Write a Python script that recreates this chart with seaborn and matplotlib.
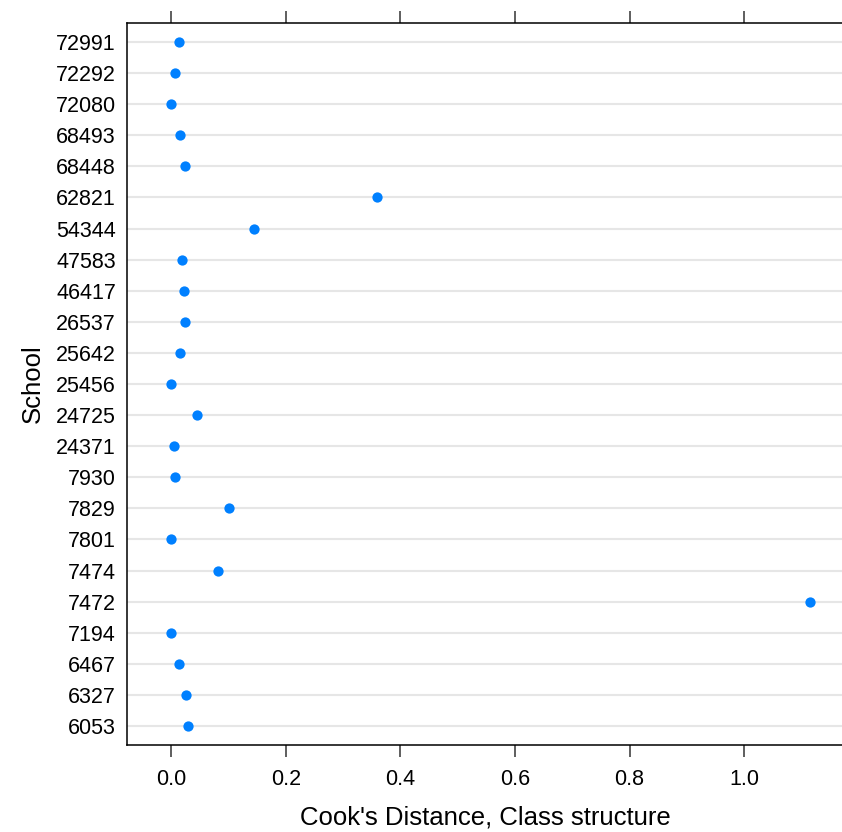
import pandas as pd
import matplotlib
matplotlib.use("Agg")
import matplotlib.pyplot as plt
import seaborn as sns

# schools, listed from top to bottom as in the chart
schools = ["72991", "72292", "72080", "68493", "68448", "62821", "54344",
           "47583", "46417", "26537", "25642", "25456", "24725", "24371",
           "7930", "7829", "7801", "7474", "7472", "7194", "6467", "6327", "6053"]
cooks_d = [0.013, 0.006, 0.000, 0.015, 0.024, 0.359, 0.144,
           0.018, 0.022, 0.024, 0.015, 0.000, 0.045, 0.004,
           0.006, 0.100, 0.000, 0.081, 1.115, 0.000, 0.013, 0.025, 0.029]
x_ticks = [0.0, 0.2, 0.4, 0.6, 0.8, 1.0]


def main():
    df = pd.DataFrame({"school": schools, "cooks": cooks_d})

    sns.set_style("white")
    plt.rcParams["font.family"] = ["Liberation Sans", "DejaVu Sans"]
    plt.rcParams["text.color"] = "black"
    plt.rcParams["axes.labelcolor"] = "black"
    plt.rcParams["xtick.color"] = "black"
    plt.rcParams["ytick.color"] = "black"

    fig = plt.figure(figsize=(8.42, 8.32), dpi=100)
    ax = fig.add_axes([127 / 842, 87 / 832, 716 / 842, 722 / 832])

    # light reference lines for each school
    for i in range(len(schools)):
        ax.axhline(i, color="#E6E6E6", lw=1.5, zorder=0)

    sns.stripplot(data=df, x="cooks", y="school", order=schools, orient="h",
                  jitter=False, color="#0080FF", size=7.4, linewidth=0, ax=ax,
                  zorder=3)

    ax.set_xlim(-0.0777, 1.1729)
    ax.set_ylim(len(schools) - 1 + 0.61, -0.61)

    ax.set_xticks(x_ticks)
    ax.set_xticklabels([f"{v:.1f}" for v in x_ticks])
    ax.tick_params(axis="x", which="both", top=True, bottom=True,
                   labeltop=False, labelbottom=True, direction="out",
                   length=8.6, width=1.1, color="#333333", labelsize=15.5,
                   pad=9)
    ax.tick_params(axis="y", length=0, labelsize=15.5, pad=8)

    for s in ax.spines.values():
        s.set_visible(True)
        s.set_color("black")
        s.set_linewidth(1.1)
    ax.spines["right"].set_visible(False)

    ax.set_xlabel("Cook's Distance, Class structure", fontsize=18.5, labelpad=11)
    ax.set_ylabel("School", fontsize=18.5, labelpad=8)

    fig.savefig("out.png", dpi=100)


if __name__ == "__main__":
    main()
